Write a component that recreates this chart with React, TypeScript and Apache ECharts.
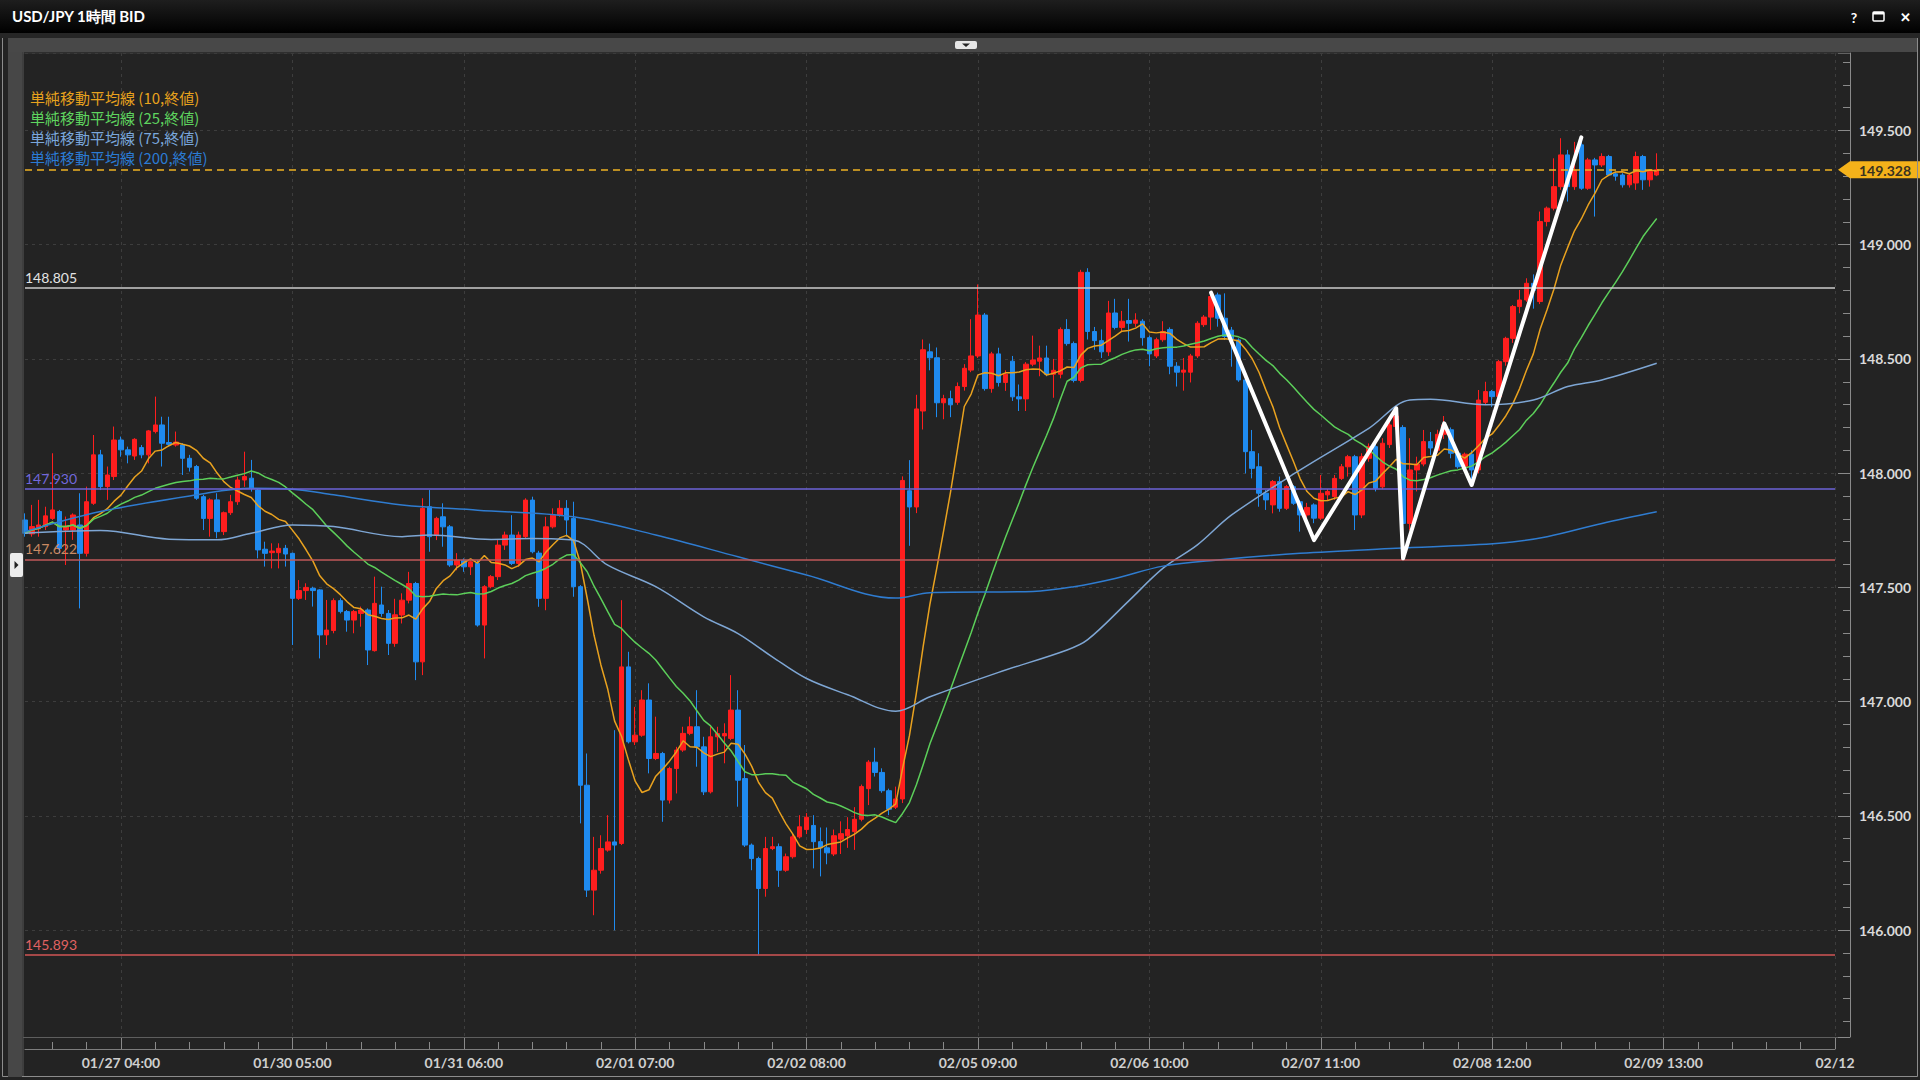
import React, { useEffect, useRef } from 'react';
import * as echarts from 'echarts';

// ---------- data ----------
const tickLabels = ['01/27 04:00', '01/30 05:00', '01/31 06:00', '02/01 07:00', '02/02 08:00', '02/05 09:00', '02/06 10:00', '02/07 11:00', '02/08 12:00', '02/09 13:00', '02/12'];
const firstTickIndex = 14;
const tickStep = 25;
const minorStep = 5;
const futureSlots = 26;

// [open, close, low, high]
const ohlc: number[][] = [
  [147.795, 147.737, 147.722, 147.824], [147.734, 147.766, 147.722, 147.861], [147.756, 147.773, 147.722, 147.883], [147.766, 147.813, 147.751, 147.853],
  [147.802, 147.839, 147.795, 148.087], [147.832, 147.671, 147.649, 147.839], [147.751, 147.766, 147.598, 147.810], [147.751, 147.817, 147.708, 147.824],
  [147.773, 147.649, 147.408, 147.912], [147.649, 147.875, 147.635, 147.941], [147.868, 148.080, 147.861, 148.167], [148.080, 147.941, 147.926, 148.102],
  [147.941, 147.992, 147.883, 148.029], [147.985, 148.145, 147.970, 148.204], [148.145, 148.102, 148.072, 148.160], [148.102, 148.080, 148.043, 148.116],
  [148.075, 148.148, 148.058, 148.153], [148.112, 148.080, 148.065, 148.123], [148.080, 148.185, 148.043, 148.189], [148.182, 148.211, 148.174, 148.335],
  [148.211, 148.131, 148.029, 148.247], [148.134, 148.126, 148.116, 148.247], [148.123, 148.136, 148.116, 148.182], [148.123, 148.065, 147.992, 148.131],
  [148.065, 148.026, 148.007, 148.080], [148.029, 147.890, 147.883, 148.036], [147.897, 147.802, 147.751, 147.905], [147.802, 147.883, 147.722, 147.890],
  [147.883, 147.744, 147.715, 147.912], [147.744, 147.827, 147.729, 147.832], [147.827, 147.875, 147.817, 147.905], [147.875, 147.970, 147.861, 147.985],
  [147.970, 147.985, 147.940, 148.094], [147.978, 147.934, 147.919, 148.058], [147.926, 147.664, 147.627, 147.934], [147.667, 147.649, 147.591, 147.700],
  [147.652, 147.659, 147.583, 147.693], [147.652, 147.671, 147.583, 147.693], [147.671, 147.646, 147.591, 147.686], [147.649, 147.452, 147.248, 147.652],
  [147.452, 147.486, 147.445, 147.532], [147.486, 147.500, 147.445, 147.518], [147.496, 147.486, 147.416, 147.503], [147.489, 147.292, 147.189, 147.492],
  [147.292, 147.313, 147.248, 147.445], [147.311, 147.442, 147.299, 147.452], [147.442, 147.394, 147.386, 147.452], [147.394, 147.357, 147.306, 147.401],
  [147.357, 147.394, 147.299, 147.401], [147.386, 147.401, 147.328, 147.416], [147.401, 147.226, 147.160, 147.408], [147.223, 147.430, 147.219, 147.547],
  [147.423, 147.386, 147.372, 147.503], [147.386, 147.255, 147.204, 147.401], [147.255, 147.380, 147.240, 147.450], [147.379, 147.444, 147.342, 147.474],
  [147.444, 147.517, 147.430, 147.568], [147.517, 147.174, 147.094, 147.524], [147.174, 147.846, 147.116, 147.890], [147.853, 147.722, 147.656, 147.926],
  [147.729, 147.802, 147.707, 147.809], [147.809, 147.765, 147.678, 147.868], [147.765, 147.598, 147.590, 147.773], [147.598, 147.619, 147.575, 147.650],
  [147.619, 147.590, 147.568, 147.627], [147.590, 147.612, 147.554, 147.619], [147.605, 147.335, 147.328, 147.619], [147.335, 147.503, 147.189, 147.510],
  [147.503, 147.547, 147.496, 147.554], [147.547, 147.685, 147.532, 147.707], [147.685, 147.729, 147.664, 147.744], [147.729, 147.605, 147.598, 147.816],
  [147.605, 147.729, 147.590, 147.744], [147.722, 147.882, 147.714, 147.890], [147.882, 147.656, 147.649, 147.897], [147.650, 147.452, 147.415, 147.660],
  [147.452, 147.765, 147.400, 147.809], [147.765, 147.816, 147.758, 147.846], [147.816, 147.846, 147.809, 147.882], [147.846, 147.795, 147.722, 147.882],
  [147.802, 147.503, 147.459, 147.875], [147.503, 146.634, 146.467, 147.510], [146.634, 146.175, 146.145, 146.773], [146.175, 146.262, 146.065, 146.408],
  [146.262, 146.357, 146.247, 146.415], [146.350, 146.386, 146.343, 146.503], [146.386, 146.372, 145.999, 146.875], [146.379, 147.152, 146.372, 147.444],
  [147.152, 146.824, 146.817, 147.218], [146.824, 146.853, 146.810, 146.977], [146.853, 147.007, 146.846, 147.050], [147.007, 146.751, 146.686, 147.080],
  [146.751, 146.773, 146.744, 146.934], [146.773, 146.569, 146.474, 146.780], [146.569, 146.707, 146.554, 146.715], [146.707, 146.788, 146.598, 146.802],
  [146.788, 146.861, 146.780, 146.890], [146.861, 146.890, 146.853, 146.934], [146.890, 146.802, 146.715, 147.050], [146.802, 146.605, 146.591, 146.846],
  [146.605, 146.846, 146.598, 146.890], [146.846, 146.860, 146.780, 146.890], [146.850, 146.860, 146.730, 146.905], [146.839, 146.963, 146.831, 147.116],
  [146.963, 146.656, 146.540, 147.050], [146.663, 146.372, 146.364, 146.810], [146.372, 146.313, 146.262, 146.379], [146.313, 146.182, 145.893, 146.321],
  [146.182, 146.357, 146.146, 146.408], [146.357, 146.365, 146.350, 146.408], [146.365, 146.262, 146.189, 146.379], [146.262, 146.321, 146.255, 146.335],
  [146.321, 146.408, 146.313, 146.423], [146.408, 146.452, 146.401, 146.503], [146.440, 146.494, 146.420, 146.512], [146.458, 146.387, 146.270, 146.503],
  [146.387, 146.360, 146.235, 146.449], [146.360, 146.338, 146.288, 146.449], [146.333, 146.413, 146.324, 146.440], [146.398, 146.422, 146.333, 146.476],
  [146.413, 146.440, 146.360, 146.494], [146.431, 146.485, 146.351, 146.538], [146.485, 146.628, 146.476, 146.637], [146.619, 146.735, 146.547, 146.744],
  [146.735, 146.690, 146.672, 146.798], [146.690, 146.610, 146.601, 146.708], [146.610, 146.529, 146.503, 146.619], [146.538, 146.574, 146.530, 146.628],
  [146.574, 147.968, 146.556, 147.986], [147.923, 147.852, 147.682, 148.057], [147.852, 148.281, 147.825, 148.343], [148.272, 148.540, 148.191, 148.585],
  [148.531, 148.505, 148.450, 148.567], [148.505, 148.308, 148.245, 148.550], [148.308, 148.326, 148.236, 148.343], [148.326, 148.299, 148.245, 148.361],
  [148.310, 148.379, 148.299, 148.397], [148.379, 148.459, 148.361, 148.477], [148.451, 148.513, 148.442, 148.674], [148.513, 148.692, 148.504, 148.826],
  [148.692, 148.370, 148.361, 148.701], [148.370, 148.522, 148.352, 148.531], [148.522, 148.397, 148.379, 148.549], [148.397, 148.433, 148.360, 148.450],
  [148.490, 148.334, 148.316, 148.513], [148.334, 148.325, 148.272, 148.388], [148.325, 148.477, 148.272, 148.486], [148.477, 148.495, 148.468, 148.602],
  [148.490, 148.504, 148.424, 148.558], [148.504, 148.433, 148.424, 148.558], [148.433, 148.450, 148.330, 148.500], [148.433, 148.629, 148.415, 148.638],
  [148.629, 148.567, 148.558, 148.674], [148.567, 148.406, 148.397, 148.576], [148.406, 148.879, 148.397, 148.890], [148.879, 148.620, 148.585, 148.897],
  [148.620, 148.580, 148.540, 148.640], [148.580, 148.531, 148.504, 148.629], [148.531, 148.701, 148.513, 148.754], [148.701, 148.638, 148.629, 148.763],
  [148.638, 148.665, 148.620, 148.710], [148.668, 148.656, 148.576, 148.763], [148.656, 148.670, 148.640, 148.700], [148.665, 148.593, 148.558, 148.674],
  [148.593, 148.522, 148.468, 148.602], [148.513, 148.584, 148.504, 148.593], [148.584, 148.620, 148.575, 148.665], [148.629, 148.468, 148.433, 148.638],
  [148.468, 148.442, 148.379, 148.486], [148.442, 148.451, 148.361, 148.504], [148.442, 148.513, 148.397, 148.522], [148.513, 148.656, 148.504, 148.665],
  [148.650, 148.683, 148.640, 148.692], [148.683, 148.773, 148.627, 148.780], [148.780, 148.678, 148.641, 148.790], [148.678, 148.598, 148.583, 148.787],
  [148.626, 148.583, 148.466, 148.640], [148.583, 148.408, 148.400, 148.590], [148.408, 148.094, 147.999, 148.415], [148.094, 148.021, 147.977, 148.189],
  [148.028, 147.912, 147.853, 148.087], [147.912, 147.883, 147.839, 147.926], [147.861, 147.963, 147.824, 147.970], [147.963, 147.846, 147.831, 147.985],
  [147.846, 147.941, 147.839, 147.948], [147.941, 147.868, 147.861, 147.948], [147.875, 147.817, 147.744, 147.883], [147.817, 147.850, 147.790, 147.870],
  [147.861, 147.803, 147.781, 147.868], [147.803, 147.912, 147.795, 147.992], [147.905, 147.920, 147.880, 147.930], [147.897, 147.977, 147.883, 147.992],
  [147.977, 148.028, 147.970, 148.040], [148.028, 148.072, 147.985, 148.080], [148.072, 147.817, 147.751, 148.080], [147.817, 148.072, 147.803, 148.087],
  [148.065, 148.116, 148.050, 148.130], [148.116, 147.934, 147.920, 148.130], [147.940, 148.131, 147.930, 148.153], [148.125, 148.211, 148.110, 148.233],
  [148.204, 148.250, 148.190, 148.280], [148.200, 147.780, 147.640, 148.210], [147.780, 148.014, 147.750, 148.153], [148.014, 148.040, 147.920, 148.072],
  [148.040, 148.138, 148.030, 148.189], [148.138, 148.110, 148.080, 148.180], [148.100, 148.170, 148.090, 148.190], [148.170, 148.211, 148.150, 148.250],
  [148.190, 148.087, 148.065, 148.200], [148.087, 148.028, 148.020, 148.100], [148.030, 148.083, 148.020, 148.090], [148.083, 148.014, 147.940, 148.100],
  [148.014, 148.320, 147.999, 148.364], [148.310, 148.357, 148.300, 148.400], [148.357, 148.335, 148.290, 148.364], [148.335, 148.488, 148.328, 148.496],
  [148.488, 148.590, 148.470, 148.597], [148.590, 148.729, 148.570, 148.736], [148.729, 148.758, 148.700, 148.802], [148.758, 148.831, 148.750, 148.853],
  [148.831, 148.800, 148.720, 148.870], [148.751, 149.101, 148.740, 149.145], [149.101, 149.160, 149.080, 149.167], [149.160, 149.254, 149.150, 149.378],
  [149.254, 149.393, 149.240, 149.466], [149.393, 149.254, 149.189, 149.415], [149.254, 149.327, 149.240, 149.450], [149.437, 149.247, 149.240, 149.473],
  [149.247, 149.371, 149.240, 149.380], [149.371, 149.349, 149.123, 149.380], [149.349, 149.386, 149.340, 149.400], [149.386, 149.305, 149.300, 149.393],
  [149.310, 149.300, 149.280, 149.320], [149.305, 149.262, 149.250, 149.313], [149.262, 149.305, 149.250, 149.313], [149.270, 149.386, 149.240, 149.407],
  [149.386, 149.284, 149.240, 149.393], [149.284, 149.320, 149.254, 149.327], [149.305, 149.328, 149.300, 149.400],
];

// moving averages: [bar index, value]
const ma75Points: number[][] = [
  [0, 147.737], [11, 147.749], [21, 147.711], [28, 147.708], [33, 147.737], [39, 147.773], [45, 147.766], [55, 147.722],
  [59, 147.729], [68, 147.710], [74, 147.714], [80, 147.707], [85, 147.597], [92, 147.503], [99, 147.371], [104, 147.298],
  [109, 147.196], [114, 147.101], [120, 147.030], [127, 146.958], [132, 147.021], [142, 147.128], [152, 147.226], [155, 147.271],
  [161, 147.441], [166, 147.584], [171, 147.686], [176, 147.817], [186, 148.014], [196, 148.196], [202, 148.320], [205, 148.323],
  [213, 148.299], [220, 148.320], [225, 148.379], [230, 148.408], [238, 148.481],
];
const ma200Points: number[][] = [
  [0, 147.744], [11, 147.832], [25, 147.905], [33, 147.934], [39, 147.930], [45, 147.905], [55, 147.861], [66, 147.838],
  [80, 147.809], [92, 147.729], [104, 147.634], [114, 147.554], [127, 147.453], [132, 147.477], [147, 147.482], [153, 147.503],
  [159, 147.539], [166, 147.593], [174, 147.620], [186, 147.649], [200, 147.671], [215, 147.693], [222, 147.722], [230, 147.780],
  [238, 147.831],
];

const zigzag: number[][] = [
  [173, 148.790], [188, 147.707], [200, 148.284], [201, 147.627], [207, 148.218], [211, 147.948], [227, 149.470],
];

const levelPrices = [148.805, 147.930, 147.622, 145.893];
const lastPrice = 149.328;

const maNames = ['単純移動平均線 (10,終値)', '単純移動平均線 (25,終値)', '単純移動平均線 (75,終値)', '単純移動平均線 (200,終値)'];

// ---------- helpers ----------
function buildCategories(n: number): string[] {
  const out: string[] = [];
  let t = Date.UTC(2024, 0, 26, 14, 0);
  while (out.length < n) {
    const d = new Date(t);
    const day = d.getUTCDay();
    const h = d.getUTCHours();
    const closed = (day === 6 && h >= 7) || day === 0 || (day === 1 && h < 7);
    if (!closed) {
      const mm = String(d.getUTCMonth() + 1).padStart(2, '0');
      const dd = String(d.getUTCDate()).padStart(2, '0');
      out.push(`${mm}/${dd} ${String(h).padStart(2, '0')}:00`);
    }
    t += 3600000;
  }
  return out;
}

function sma(values: number[], n: number): number[] {
  return values.map((_, i) => {
    const s = Math.max(0, i - n + 1);
    let sum = 0;
    for (let k = s; k <= i; k++) sum += values[k];
    return +(sum / (i - s + 1)).toFixed(4);
  });
}

const categories = buildCategories(ohlc.length + futureSlots);
const closes = ohlc.map((c) => c[1]);
const isMajor = (i: number) => i >= firstTickIndex && (i - firstTickIndex) % tickStep === 0;
const isMinor = (i: number) => i >= 0 && ((i - firstTickIndex) % minorStep + minorStep) % minorStep === 0 && !isMajor(i);

const FONT_NUM = 'Lato, "Noto Sans", sans-serif';
const FONT_JP = '"Noto Sans CJK JP", "Noto Sans", sans-serif';

const maColors = ['#e9a21f', '#5ccf5a', '#7ea6d4', '#2f7cd0'];
const maTextColors = ['#e8a21d', '#5fd55f', '#7aa7dc', '#2b7bd4'];
const levelLineColors = ['#cccccc', '#6c63d8', '#c0595a', '#d25656'];
const levelLabelColors = ['#e4e4e4', '#7268dc', '#c98a62', '#e06262'];

function buildOption(): any {
  return {
    animation: false,
    backgroundColor: '#232323',
    grid: { left: 25, top: 53, width: 1810, height: 984, containLabel: false, outerBoundsMode: 'none' },
    legend: {
      left: 20,
      top: 85,
      orient: 'vertical',
      icon: 'none',
      itemWidth: 0,
      itemHeight: 15,
      itemGap: 5,
      selectedMode: false,
      data: maNames.map((n, i) => ({ name: n, textStyle: { color: maTextColors[i] } })),
      textStyle: { fontSize: 15, fontFamily: FONT_JP },
    },
    xAxis: [
      {
        type: 'category',
        data: categories,
        boundaryGap: false,
        position: 'bottom',
        offset: 12,
        axisLine: { show: true, lineStyle: { color: '#7d7d7d', width: 1 } },
        axisTick: { show: true, inside: true, length: 12, interval: (i: number) => isMajor(i), lineStyle: { color: '#8a8a8a' } },
        axisLabel: {
          show: true,
          interval: (i: number) => isMajor(i),
          formatter: (_v: string, i: number) => (isMajor(i) ? tickLabels[(i - firstTickIndex) / tickStep] ?? '' : ''),
          color: '#cfcfcf',
          fontFamily: FONT_NUM,
          fontWeight: 'bold',
          fontSize: 14,
          margin: 6,
          hideOverlap: false,
        },
        splitLine: { show: true, interval: (i: number) => isMajor(i), lineStyle: { color: '#3d3d3d', type: [3, 4], width: 1 } },
      },
      {
        type: 'category',
        data: categories,
        boundaryGap: false,
        position: 'bottom',
        offset: 12,
        axisLine: { show: false },
        axisTick: { show: true, inside: true, length: 7, interval: (i: number) => isMinor(i), lineStyle: { color: '#8a8a8a' } },
        axisLabel: { show: false },
        splitLine: { show: false },
      },
    ],
    yAxis: {
      type: 'value',
      position: 'right',
      offset: 15,
      min: 145.532,
      max: 149.839,
      splitNumber: 8,
      scale: true,
      axisLine: { show: true, lineStyle: { color: '#8a8a8a', width: 1 } },
      axisTick: { show: true, inside: true, length: 12, lineStyle: { color: '#8a8a8a' } },
      minorTick: { show: true, splitNumber: 5, length: 7, lineStyle: { color: '#8a8a8a' } },
      axisLabel: {
        show: true,
        color: '#dadada',
        fontFamily: FONT_NUM,
        fontWeight: 'bold',
        fontSize: 14,
        margin: 9,
        formatter: (v: number) => (Math.abs(v * 2 - Math.round(v * 2)) < 1e-6 ? v.toFixed(3) : ''),
      },
      splitLine: { show: true, lineStyle: { color: '#3d3d3d', type: [3, 4], width: 1 } },
    },
    series: [
      {
        name: 'USD/JPY',
        type: 'candlestick',
        data: ohlc,
        barWidth: 5,
        silent: true,
        clip: true,
        itemStyle: { color: '#ff1e1e', color0: '#1f8bf0', borderColor: '#ff1e1e', borderColor0: '#1f8bf0', borderWidth: 1 },
        markLine: {
          silent: true,
          symbol: ['none', 'none'],
          animation: false,
          data: [
            ...levelPrices.map((v, i) => ({
              yAxis: v,
              lineStyle: { color: levelLineColors[i], width: 1.5, type: 'solid' },
              label: {
                show: true,
                position: 'insideStartTop',
                formatter: v.toFixed(3),
                color: levelLabelColors[i],
                fontFamily: FONT_NUM,
                fontSize: 14,
                distance: [0, 4],
              },
            })),
            { yAxis: lastPrice, lineStyle: { color: '#f0b323', width: 1.5, type: [7, 5] }, label: { show: false } },
          ],
        },
      },
      {
        name: maNames[0], type: 'line', data: sma(closes, 10), showSymbol: false, symbol: 'none', silent: true,
        lineStyle: { color: maColors[0], width: 1.5 }, itemStyle: { color: maColors[0] }, z: 4,
      },
      {
        name: maNames[1], type: 'line', data: sma(closes, 25), showSymbol: false, symbol: 'none', silent: true,
        lineStyle: { color: maColors[1], width: 1.5 }, itemStyle: { color: maColors[1] }, z: 4,
      },
      {
        name: maNames[2], type: 'line', data: ma75Points, showSymbol: false, symbol: 'none', silent: true, smooth: 0.35,
        lineStyle: { color: maColors[2], width: 1.5 }, itemStyle: { color: maColors[2] }, z: 4,
      },
      {
        name: maNames[3], type: 'line', data: ma200Points, showSymbol: false, symbol: 'none', silent: true, smooth: 0.35,
        lineStyle: { color: maColors[3], width: 1.5 }, itemStyle: { color: maColors[3] }, z: 4,
      },
      {
        name: 'annotation', type: 'line', data: zigzag, showSymbol: false, symbol: 'none', silent: true,
        lineStyle: { color: '#ffffff', width: 4, cap: 'round', join: 'round' }, z: 10,
      },
    ],
  };
}

function buildGraphics(tagY: number): any[] {
  return [
    {
      type: 'rect', id: 'titlebar', z: 100, silent: true,
      shape: { x: 0, y: 0, width: 1920, height: 33 },
      style: { fill: new echarts.graphic.LinearGradient(0, 0, 0, 1, [{ offset: 0, color: '#1e1e1e' }, { offset: 1, color: '#000000' }]) },
    },
    { type: 'text', id: 'title', z: 101, x: 12, y: 16, style: { text: 'USD/JPY 1時間 BID', fill: '#ffffff', font: `bold 15px ${FONT_NUM}`, verticalAlign: 'middle' } },
    { type: 'text', id: 'help', z: 101, x: 1854, y: 17, style: { text: '?', fill: '#ffffff', font: `bold 14px ${FONT_NUM}`, align: 'center', verticalAlign: 'middle' } },
    { type: 'rect', id: 'maxbox', z: 101, shape: { x: 1873, y: 12, width: 11, height: 9, r: 1 }, style: { fill: 'none', stroke: '#ffffff', lineWidth: 1.5 } },
    { type: 'rect', id: 'maxbar', z: 101, shape: { x: 1873, y: 12, width: 11, height: 2.5 }, style: { fill: '#ffffff' } },
    { type: 'text', id: 'close', z: 101, x: 1905, y: 17, style: { text: '✕', fill: '#ffffff', font: `bold 13px ${FONT_NUM}`, align: 'center', verticalAlign: 'middle' } },
    { type: 'rect', id: 'gap', z: 100, shape: { x: 0, y: 33, width: 1920, height: 5 }, style: { fill: '#262626' } },
    { type: 'rect', id: 'toolbar', z: 100, shape: { x: 8, y: 38, width: 1909, height: 14 }, style: { fill: '#484848' } },
    { type: 'rect', id: 'dropdown', z: 101, shape: { x: 955, y: 41, width: 22, height: 8, r: 2 }, style: { fill: '#e6e6e6' } },
    { type: 'polygon', id: 'dropArrow', z: 102, shape: { points: [[962, 43.5], [970, 43.5], [966, 47]] }, style: { fill: '#222222' } },
    { type: 'rect', id: 'leftStrip', z: 100, shape: { x: 8, y: 52, width: 14, height: 1025 }, style: { fill: '#474747' } },
    { type: 'rect', id: 'leftBtn', z: 101, shape: { x: 10, y: 553, width: 13, height: 24, r: 2 }, style: { fill: '#ececec' } },
    { type: 'polygon', id: 'leftBtnArrow', z: 102, shape: { points: [[14.5, 561], [14.5, 569], [18.5, 565]] }, style: { fill: '#222222' } },
    { type: 'line', id: 'frameTop', z: 50, shape: { x1: 23, y1: 53, x2: 1850, y2: 53 }, style: { stroke: '#3a3a3a', lineWidth: 1 } },
    { type: 'line', id: 'frameBottom', z: 50, shape: { x1: 23, y1: 1037.5, x2: 1838, y2: 1037.5 }, style: { stroke: '#5e5e5e', lineWidth: 1 } },
    { type: 'line', id: 'frameLeft', z: 50, shape: { x1: 23, y1: 52, x2: 23, y2: 1077 }, style: { stroke: '#5a5a5a', lineWidth: 1 } },
    { type: 'rect', id: 'window', z: 99, shape: { x: 2.5, y: 0.5, width: 1915, height: 1076 }, style: { fill: 'none', stroke: '#8c8c8c', lineWidth: 1 } },
    {
      type: 'polygon', id: 'priceTag', z: 60,
      shape: { points: [[1838, tagY], [1850, tagY - 8.5], [1920, tagY - 8.5], [1920, tagY + 8.5], [1850, tagY + 8.5]] },
      style: { fill: '#f4b21a' },
    },
    {
      type: 'text', id: 'priceTagText', z: 61, x: 1885, y: tagY + 0.5,
      style: { text: lastPrice.toFixed(3), fill: '#3a3320', font: `bold 14px ${FONT_NUM}`, align: 'center', verticalAlign: 'middle' },
    },
  ];
}

export default function App() {
  const ref = useRef<HTMLDivElement>(null);
  useEffect(() => {
    const el = ref.current;
    if (!el) return;
    const chart = echarts.init(el, undefined, { renderer: 'svg', width: 1920, height: 1080 });
    chart.setOption(buildOption());
    const tagY = chart.convertToPixel({ yAxisIndex: 0 }, lastPrice) as number;
    chart.setOption({ graphic: buildGraphics(tagY) });
    return () => chart.dispose();
  }, []);
  return <div ref={ref} style={{ position: 'fixed', left: 0, top: 0, width: 1920, height: 1080 }} />;
}
